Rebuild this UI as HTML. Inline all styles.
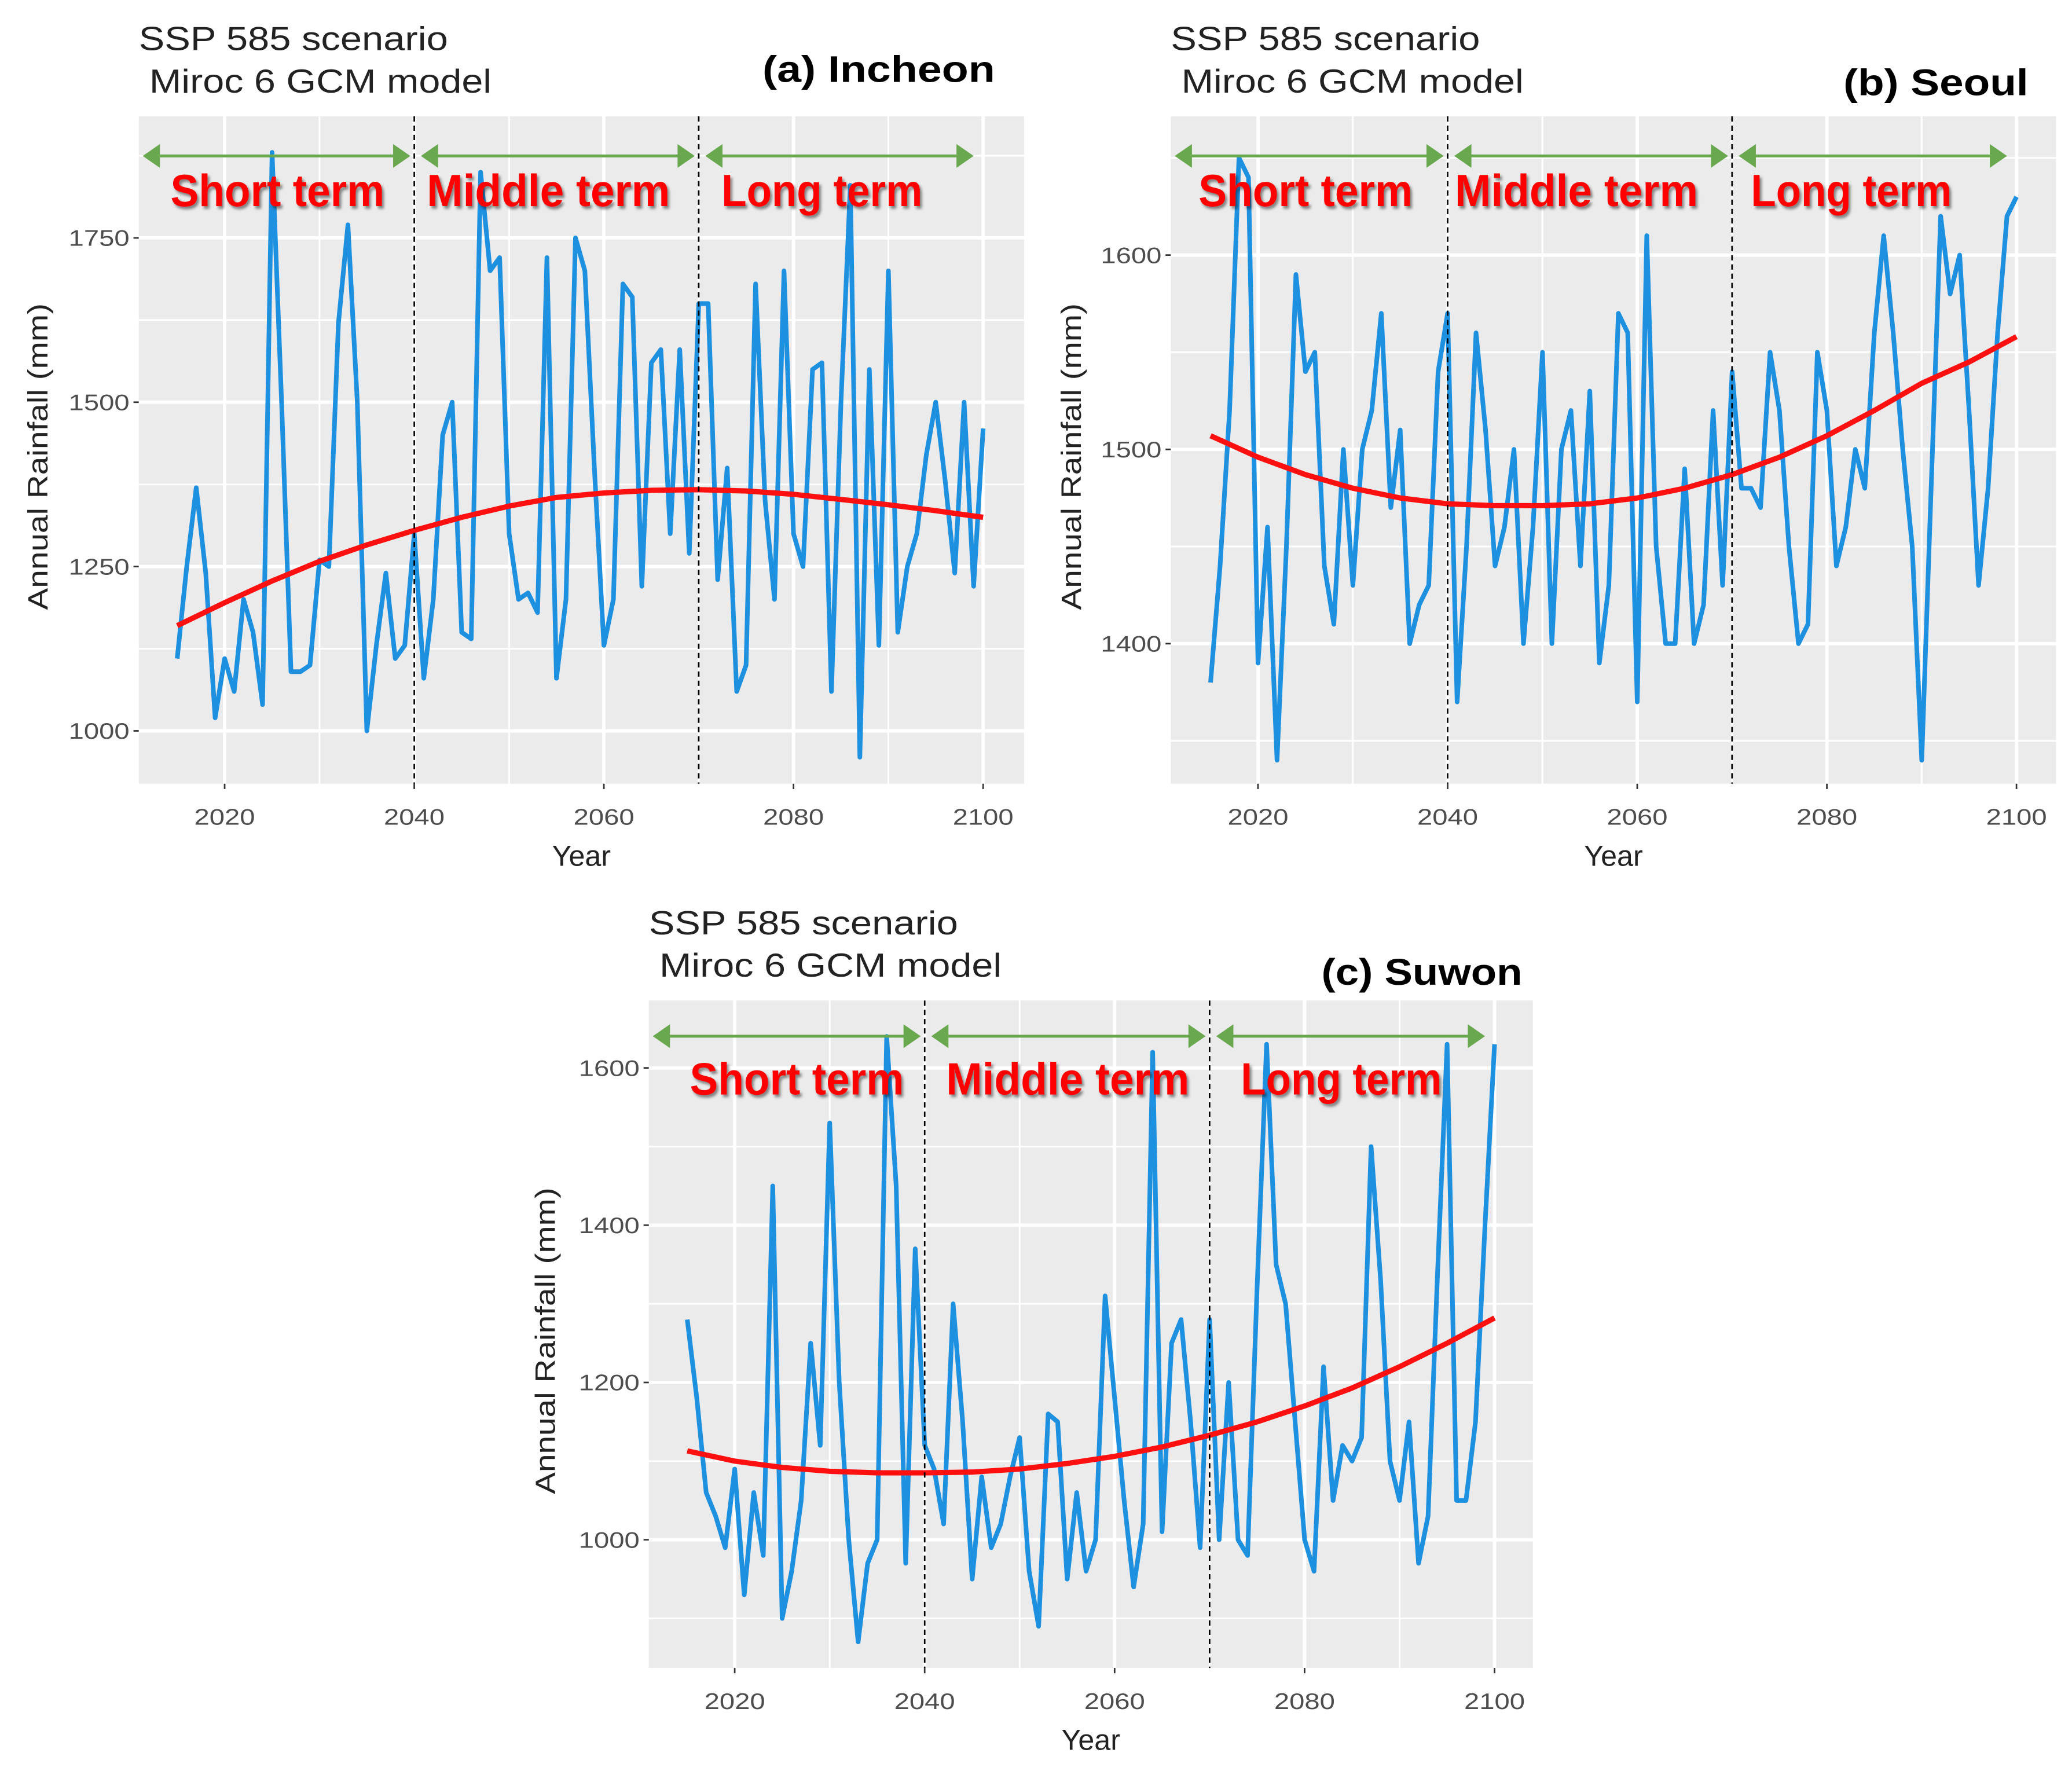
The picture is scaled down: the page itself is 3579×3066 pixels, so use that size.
<!DOCTYPE html>
<html><head><meta charset="utf-8">
<style>
html,body{margin:0;padding:0;background:#fff;}
svg{display:block;}
text{font-family:"Liberation Sans",sans-serif;}
</style></head>
<body>
<svg id="fig" width="3579" height="3066" viewBox="0 0 1568 1343" preserveAspectRatio="none" xmlns="http://www.w3.org/2000/svg">
<defs>
<filter id="sh" x="-5%" y="-5%" width="115%" height="130%"><feDropShadow dx="1.5" dy="2" stdDeviation="1" flood-color="#000" flood-opacity="0.45"/></filter>
</defs>
</svg>
<script>
const years = [];
for (let y = 2015; y <= 2100; y++) years.push(y);

const incheonValues = [1110,1250,1370,1240,1020,1110,1060,1200,1150,1040,1880,1500,1090,1090,1100,1260,1250,1620,1770,1500,1000,1130,1240,1110,1130,1300,
1080,1200,1450,1500,1150,1140,1850,1700,1720,1300,1200,1210,1180,1720,1080,1200,1750,1700,1400,1130,1200,1680,1660,1220,1560,1580,1300,1580,1270,1650,
1650,1230,1400,1060,1100,1680,1350,1200,1700,1300,1250,1550,1560,1060,1500,1830,960,1550,1130,1700,1150,1250,1300,1420,1500,1380,1240,1500,1220,1460];
const incheonTrend = [1160,1195,1228,1258,1283,1305,1325,1342,1355,1362,1366,1367,1365,1360,1352,1344,1335,1325];

const seoulValues = [1380,1440,1520,1650,1640,1390,1460,1340,1450,1590,1540,1550,1440,1410,1500,1430,1500,1520,1570,1470,1510,1400,1420,1430,1540,1570,
1370,1450,1560,1510,1440,1460,1500,1400,1460,1550,1400,1500,1520,1440,1530,1390,1430,1570,1560,1370,1610,1450,1400,1400,1490,1400,1420,1520,1430,1540,
1480,1480,1470,1550,1520,1450,1400,1410,1550,1520,1440,1460,1500,1480,1560,1610,1560,1500,1450,1340,1480,1620,1580,1600,1520,1430,1480,1560,1620,1630];
const seoulTrend = [1507,1496,1487,1480,1475,1472,1471,1471,1472,1475,1480,1487,1496,1507,1520,1534,1545,1558];

const suwonValues = [1280,1180,1060,1030,990,1090,930,1060,980,1450,900,960,1050,1250,1120,1530,1200,1000,870,970,1000,1640,1450,970,1370,1120,
1090,1020,1300,1150,950,1080,990,1020,1080,1130,960,890,1160,1150,950,1060,960,1000,1310,1180,1050,940,1020,1620,1010,1250,1280,1150,990,1280,
1000,1200,1000,980,1320,1630,1350,1300,1150,1000,960,1220,1050,1120,1100,1130,1500,1330,1100,1050,1150,970,1030,1340,1630,1050,1050,1150,1400,1630];
const suwonTrend = [1113,1100,1092,1087,1085,1085,1086,1090,1097,1106,1118,1133,1150,1170,1193,1220,1250,1282];
const trendYears = [2015,2020,2025,2030,2035,2040,2045,2050,2055,2060,2065,2070,2075,2080,2085,2090,2095,2100];

const xTicks = [2020,2040,2060,2080,2100];
const xMinor = [2030,2050,2070,2090];
const incheonYTicks = [1000,1250,1500,1750];
const incheonYMinor = [875,1125,1375,1625,1875];
const seoulYTicks = [1400,1500,1600];
const seoulYMinor = [1350,1450,1550,1650];
const suwonYTicks = [1000,1200,1400,1600];
const suwonYMinor = [900,1100,1300,1500,1700];
const periodBreaks = [2040,2070];

const NS = "http://www.w3.org/2000/svg";
const svg = document.getElementById("fig");
function el(tag, attrs, parent, txt) {
  const e = document.createElementNS(NS, tag);
  for (const k in attrs) e.setAttribute(k, attrs[k]);
  if (txt !== undefined) e.textContent = txt;
  (parent || svg).appendChild(e);
  return e;
}

const panels = [
  {key:"incheon", label:"(a)  Incheon", lx:577, ly:62, tx:105, ty:38,
   x0:105,x1:775,y0:88,y1:593, xa:170,xb:744, va:1000,pa:553, vb:1750,pb:180,
   vals:incheonValues, trend:incheonTrend, yt:incheonYTicks, ym:incheonYMinor,
   arrowY:118, termY:156, termX:[210,415,622], ytitleX:36},
  {key:"seoul", label:"(b)  Seoul", lx:1395, ly:72, tx:886, ty:38,
   x0:886,x1:1556,y0:88,y1:593, xa:952,xb:1526, va:1400,pa:487, vb:1600,pb:193,
   vals:seoulValues, trend:seoulTrend, yt:seoulYTicks, ym:seoulYMinor,
   arrowY:118, termY:156, termX:[988,1193,1401], ytitleX:818},
  {key:"suwon", label:"(c)  Suwon", lx:1000, ly:745, tx:491, ty:707,
   x0:491,x1:1160,y0:757,y1:1262, xa:556,xb:1131, va:1000,pa:1165, vb:1600,pb:808,
   vals:suwonValues, trend:suwonTrend, yt:suwonYTicks, ym:suwonYMinor,
   arrowY:784, termY:828, termX:[603,808,1015], ytitleX:420}
];

panels.forEach(p => {
  const g = el("g", {});
  
  
  const X = yr => p.xa + (yr - 2020) * (p.xb - p.xa) / 80;
  const Y = v => p.pa + (v - p.va) * (p.pb - p.pa) / (p.vb - p.va);

  const t1 = el("text", {x:p.tx, y:p.ty, "font-size":25, fill:"#222", textLength:234, lengthAdjust:"spacingAndGlyphs"}, g, "SSP 585 scenario");
  
  
  const t2 = el("text", {x:p.tx+8, y:p.ty+32, "font-size":25, fill:"#222", textLength:259, lengthAdjust:"spacingAndGlyphs"}, g, "Miroc 6 GCM model");
  
  
  const t3 = el("text", {x:p.lx, y:p.ly, "font-size":28, "font-weight":"bold", fill:"#000", textLength:176, lengthAdjust:"spacingAndGlyphs"}, g, p.label);
  if (p.key === "seoul") t3.setAttribute("textLength", 140);
  if (p.key === "suwon") t3.setAttribute("textLength", 152);
  
  

  const bg = el("rect", {x:p.x0, y:p.y0, width:p.x1-p.x0, height:p.y1-p.y0, fill:"#ebebeb"}, g);
  
  

  p.ym.forEach(v => { const yy = Y(v); if (yy > p.y0 && yy < p.y1) {
    const l = el("line", {x1:p.x0, x2:p.x1, y1:yy, y2:yy, stroke:"#fff", "stroke-width":1.3}, g);
    
     }});
  xMinor.forEach(v => {
    const l = el("line", {x1:X(v), x2:X(v), y1:p.y0, y2:p.y1, stroke:"#fff", "stroke-width":1.3}, g);
    
     });
  p.yt.forEach(v => {
    const yy = Y(v);
    const l = el("line", {x1:p.x0, x2:p.x1, y1:yy, y2:yy, stroke:"#fff", "stroke-width":2.6}, g);
    
    
    const tk = el("line", {x1:p.x0-4, x2:p.x0, y1:yy, y2:yy, stroke:"#333", "stroke-width":1.2}, g);
    
    
    const lb = el("text", {x:p.x0-7, y:yy+6, "font-size":17, fill:"#4d4d4d", "text-anchor":"end", textLength:46, lengthAdjust:"spacingAndGlyphs"}, g, String(v));
    
    
  });
  xTicks.forEach(v => {
    const xx = X(v);
    const l = el("line", {x1:xx, x2:xx, y1:p.y0, y2:p.y1, stroke:"#fff", "stroke-width":2.6}, g);
    
    
    const tk = el("line", {x1:xx, x2:xx, y1:p.y1, y2:p.y1+4, stroke:"#333", "stroke-width":1.2}, g);
    
    
    const lb = el("text", {x:xx, y:p.y1+31, "font-size":17, fill:"#4d4d4d", "text-anchor":"middle", textLength:46, lengthAdjust:"spacingAndGlyphs"}, g, String(v));
    
    
  });
  const xt = el("text", {x:(p.x0+p.x1)/2, y:p.y1+62, "font-size":22, fill:"#222", "text-anchor":"middle"}, g, "Year");
  
  
  const cy = (p.y0+p.y1)/2 + 5;
  const yt = el("text", {x:p.ytitleX, y:cy, "font-size":21, fill:"#222", "text-anchor":"middle", transform:`rotate(-90 ${p.ytitleX} ${cy})`, textLength:232, lengthAdjust:"spacingAndGlyphs"}, g, "Annual Rainfall (mm)");
  
  

  const pts = p.vals.map((v,i) => X(years[i]).toFixed(1) + "," + Y(v).toFixed(1)).join(" ");
  const line = el("polyline", {points:pts, fill:"none", stroke:"#1e90e0", "stroke-width":3.5, "stroke-linejoin":"round"}, g);
  
  
  const tp = p.trend.map((v,i) => X(trendYears[i]).toFixed(1) + "," + Y(v).toFixed(1)).join(" ");
  const tr = el("polyline", {points:tp, fill:"none", stroke:"#ff1010", "stroke-width":4, "stroke-linejoin":"round"}, g);
  
  

  periodBreaks.forEach(v => {
    const d = el("line", {x1:X(v), x2:X(v), y1:p.y0, y2:p.y1, stroke:"#000", "stroke-width":1.2, "stroke-dasharray":"4,3"}, g);
    
    
  });

  const spans = [[p.x0+3, X(2040)-3],[X(2040)+5, X(2070)-3],[X(2070)+5, X(2099)]];
  spans.forEach(s => {
    const a = el("g", {}, g);
    
    
    el("line", {x1:s[0]+8, x2:s[1]-8, y1:p.arrowY, y2:p.arrowY, stroke:"#6aa84f", "stroke-width":2.2}, a);
    el("polygon", {points:`${s[0]},${p.arrowY} ${s[0]+13},${p.arrowY-9} ${s[0]+13},${p.arrowY+9}`, fill:"#6aa84f"}, a);
    el("polygon", {points:`${s[1]},${p.arrowY} ${s[1]-13},${p.arrowY-9} ${s[1]-13},${p.arrowY+9}`, fill:"#6aa84f"}, a);
  });
  const terms = ["Short term","Middle term","Long term"];
  const tlen = [162,184,152];
  terms.forEach((t,i) => {
    const tt = el("text", {x:p.termX[i], y:p.termY, "font-size":34, "font-weight":"bold", fill:"#ff0000", "text-anchor":"middle", filter:"url(#sh)", textLength:tlen[i], lengthAdjust:"spacingAndGlyphs"}, g, t);
    
    
  });
});
</script>
</body></html>
